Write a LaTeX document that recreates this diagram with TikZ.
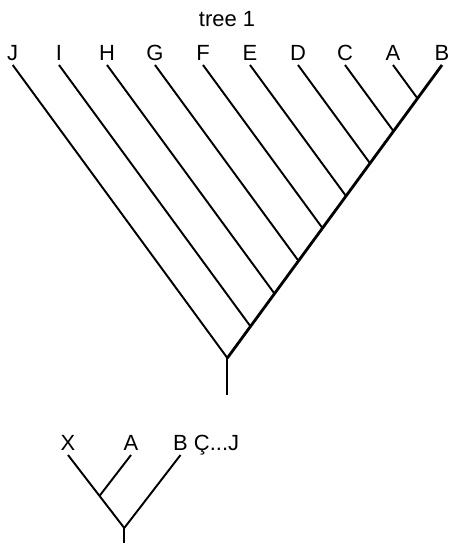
\documentclass[tikz,border=0pt]{standalone}
\usepackage{fontspec}
\setmainfont{Liberation Sans}
\usetikzlibrary{calc, positioning}

\begin{document}
\begin{tikzpicture}[
        x=0.02cm, y=-0.02cm,
        taxon/.style={
            font=\fontsize{12.5}{14}\selectfont, inner sep=2.3pt, anchor=south
        },
        title/.style={
            font=\fontsize{12.5}{14}\selectfont, inner sep=0pt
        },
        branch/.style={draw=black, line width=1.1pt},
        spine/.style={draw=black, line width=1.6pt},
        stem/.style={draw=black, line width=1.2pt}
    ]

    \useasboundingbox (0,0) rectangle (449,543);

    % Title
    \node[title] (title) at (227,19) {tree 1};

    % Tree 1: tips and labels
    \foreach \name/\tx in {J/12.7, I/59, H/107, G/155, F/203, E/250, D/298, C/345, A/393, B/442} {
        \coordinate (t\name) at (\tx,65);
        \node[taxon] (l\name) at (t\name) {\name};
    }

    % Tree 1: junctions on the spine and side branches
    \foreach \name/\tx in {J/12.7, I/59, H/107, G/155, F/203, E/250, D/298, C/345, A/393} {
        \pgfmathsetmacro\jx{(442+\tx)/2}
        \pgfmathsetmacro\jy{65+1.365*(442-\tx)/2}
        \coordinate (j\name) at (\jx,\jy);
        \draw[branch] (t\name) -- (j\name);
    }

    % Tree 1: spine and stem
    \coordinate (base) at (227.35,395);
    \draw[spine] (tB) -- (jJ);
    \draw[stem] (jJ) -- (base);

    % Tree 2: tips and labels
    \coordinate (tX) at (68,455);
    \coordinate (tA2) at (131,455);
    \coordinate (tB2) at (180.5,455);
    \node[taxon] (lX) at (tX) {X};
    \node[taxon] (lA2) at (tA2) {A};
    \node[taxon] (lB2) at (tB2) {B};
    \node[taxon, anchor=base west, base right=-1.5pt of lB2] (lrest) {Ç...J};

    % Tree 2: junctions
    \coordinate (jXA) at (99.5,495.9);
    \coordinate (root2) at (124.25,528);
    \coordinate (base2) at (124.25,543);

    % Tree 2: branches
    \draw[branch] (tX) -- (root2);
    \draw[branch] (tA2) -- (jXA);
    \draw[branch] (tB2) -- (root2);
    \draw[stem] (root2) -- (base2);

\end{tikzpicture}
\end{document}
